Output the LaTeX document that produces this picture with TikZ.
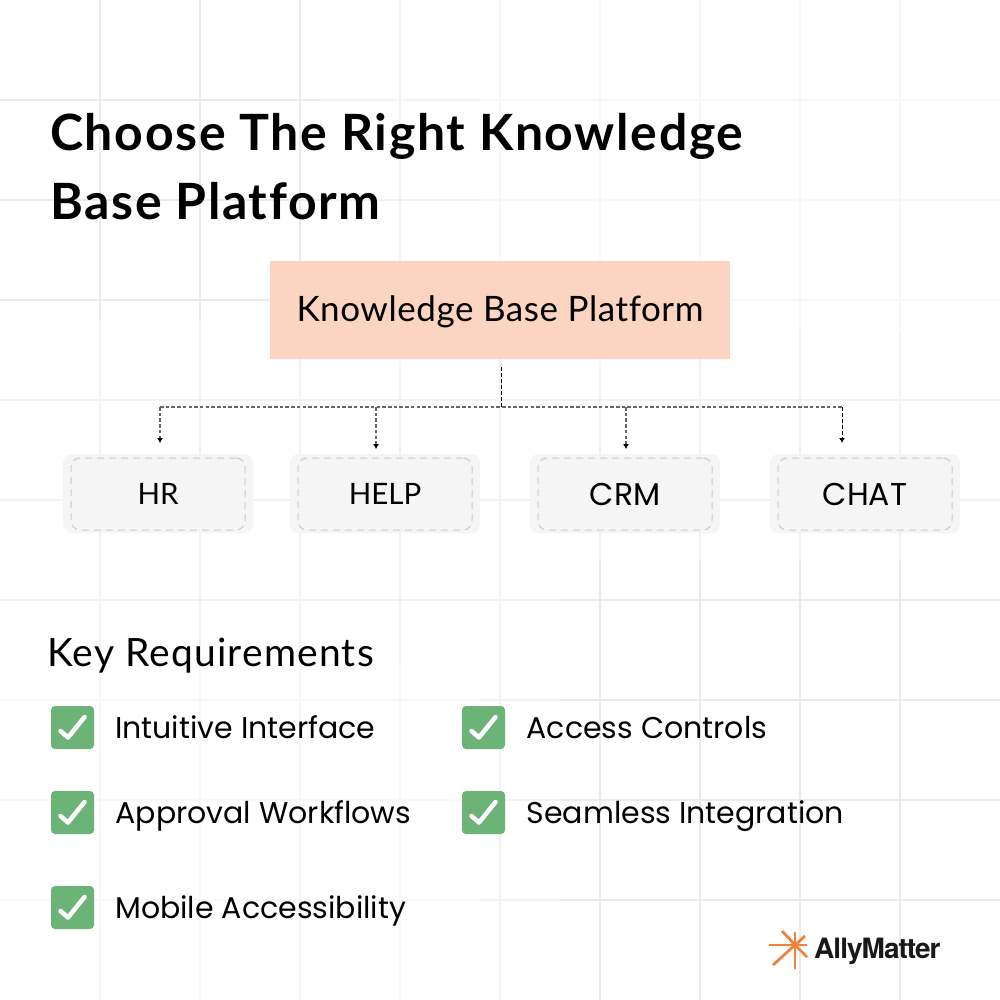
\documentclass[tikz,border=0pt]{standalone}
\usepackage{fontspec}
\setmainfont{Lato}[Ligatures=NoCommon]
\newfontfamily\popfont{Poppins}
\newfontfamily\logofont{TeX Gyre Heros}[LetterSpace=-3.5]
\definecolor{gridstrong}{HTML}{EBEBEB}
\definecolor{gridmid}{HTML}{F2F2F2}
\definecolor{gridpale}{HTML}{F8F8F8}
\definecolor{peach}{HTML}{FBD5C1}
\definecolor{softgray}{HTML}{F5F5F5}
\definecolor{dashgray}{HTML}{CBCBCB}
\definecolor{checkgreen}{HTML}{6BB377}
\definecolor{logoorange}{HTML}{F0813F}
\usetikzlibrary{arrows.meta}
\newcommand{\gridlines}[1]{
	\foreach \pos in {100,200,...,900} {
		\draw[#1, line width=1.2pt] (\pos,0) -- (\pos,1000);
		\draw[#1, line width=1.2pt] (0,\pos) -- (1000,\pos);
	}
}
\tikzset{
	titletext/.style={anchor=base west, inner sep=0pt, font=\fontsize{50}{50}\selectfont\bfseries\addfontfeatures{LetterSpace=3.3}},
	reqtext/.style={anchor=base west, inner sep=0pt, font=\popfont\fontsize{30}{30}\selectfont},
	softbox/.style={fill=softgray, rounded corners=9pt, minimum width=190pt, minimum height=79pt},
	innerbox/.style={draw=dashgray, line width=1pt, dash pattern=on 7pt off 5pt, rounded corners=9pt, minimum width=174pt, minimum height=72pt},
	lato/.style={font=\fontsize{29.5}{31}\selectfont},
	pop/.style={font=\popfont\fontsize{31.5}{32}\selectfont},
	tickbox/.style={fill=checkgreen, rounded corners=4pt, minimum size=43pt, inner sep=0pt},
	tickmark/.style={white, line width=4.5pt, line cap=round, line join=round},
	link/.style={draw=black!60, line width=1.5pt, dash pattern=on 3.5pt off 2.2pt},
	darklink/.style={draw=black, line width=1pt, dash pattern=on 3.5pt off 2.5pt},
	tip/.style={-{Latex[black,length=5pt,width=6pt]}},
	rayline/.style={logoorange, line width=2.8pt},
}
\begin{document}
\begin{tikzpicture}[x=1pt, y=-1pt]
	\useasboundingbox (0,0) rectangle (1000,1000);
	\fill[white] (0,0) rectangle (1000,1000);
	% grid is paler top right and bottom left
	\gridlines{gridpale}
	\begin{scope}
		\clip (0,0) rectangle (480,580) (480,330) rectangle (1000,1000) (0,330) rectangle (480,660);
		\gridlines{gridmid}
	\end{scope}
	\begin{scope}
		\clip (0,0) rectangle (320,320) (560,560) rectangle (1000,1000);
		\gridlines{gridstrong}
	\end{scope}
	\node[titletext] (title1) at (50,151) {Choose The Right Knowledge};
	\node[titletext] (title2) at (50,219) {Base Platform};
	\node[fill=peach, minimum width=460pt, minimum height=98pt, text height=26pt, text depth=4pt, font=\fontsize{35}{35}\selectfont\addfontfeatures{LetterSpace=1.6}] (platform) at (500,310) {Knowledge Base Platform};
	% tools
	\foreach \name/\xpos/\txt/\face in {hr/158/HR/lato, help/385/HELP/lato, crm/625/CRM/pop, chat/865/CHAT/pop} {
		\node[softbox] (\name out) at (\xpos,493.5) {};
		\node[innerbox, \face] (\name) at (\xpos,494) {\txt};
	}
	\coordinate (trunktop) at (501,367);
	\coordinate (trunk) at (501,407);
	\coordinate (hrtop) at (160,407);
	\coordinate (helptop) at (376,407);
	\coordinate (crmtop) at (626,407);
	\coordinate (chattop) at (842,407);
	\coordinate (hrtip) at (160,443);
	\coordinate (helptip) at (376,449);
	\coordinate (crmtip) at (626,449);
	\coordinate (chattip) at (842,443);
	\draw[link] (hrtop) -- (chattop);
	\draw[darklink] (trunktop) -- (trunk);
	\draw[link, tip] (hrtop) -- (hrtip);
	\draw[link, tip] (helptop) -- (helptip);
	\draw[link, tip] (crmtop) -- (crmtip);
	\draw[darklink, tip] (chattop) -- (chattip);
	% requirements
	\node[anchor=base west, inner sep=0pt, font=\fontsize{39}{39}\selectfont\addfontfeatures{LetterSpace=3}] (keyreq) at (47,666) {Key Requirements};
	\foreach \name/\xpos/\ypos/\txtx/\txt in {a/72.5/727.5/115/Intuitive Interface, b/72.5/812.5/115.5/Approval Workflows, c/72.5/907.5/115/Mobile Accessibility, d/483.5/727.5/526.5/Access Controls, e/483.5/812.5/526.5/Seamless Integration} {
		\node[tickbox] (\name) at (\xpos,\ypos) {};
		\draw[tickmark] ([shift={(-12,3.5)}]\name.center) -- ([shift={(-4.5,10)}]\name.center) -- ([shift={(12,-10.5)}]\name.center);
		\node[reqtext] (\name txt) at (\txtx,\ypos+10.5) {\txt};
	}
	% logo
	\coordinate (star) at (795,945);
	\foreach \dx/\dy in {-26/0, 12/0, 0/-13, 0/24, -13/-14, -22/20, 10/-9, 12/12} {
		\draw[rayline] (star) -- ++(\dx,\dy);
	}
	\node[anchor=base west, inner sep=0pt, font=\logofont\fontsize{28}{28}\selectfont\bfseries, text=black!90] (brand) at (814,958) {AllyMatter};
\end{tikzpicture}
\end{document}
